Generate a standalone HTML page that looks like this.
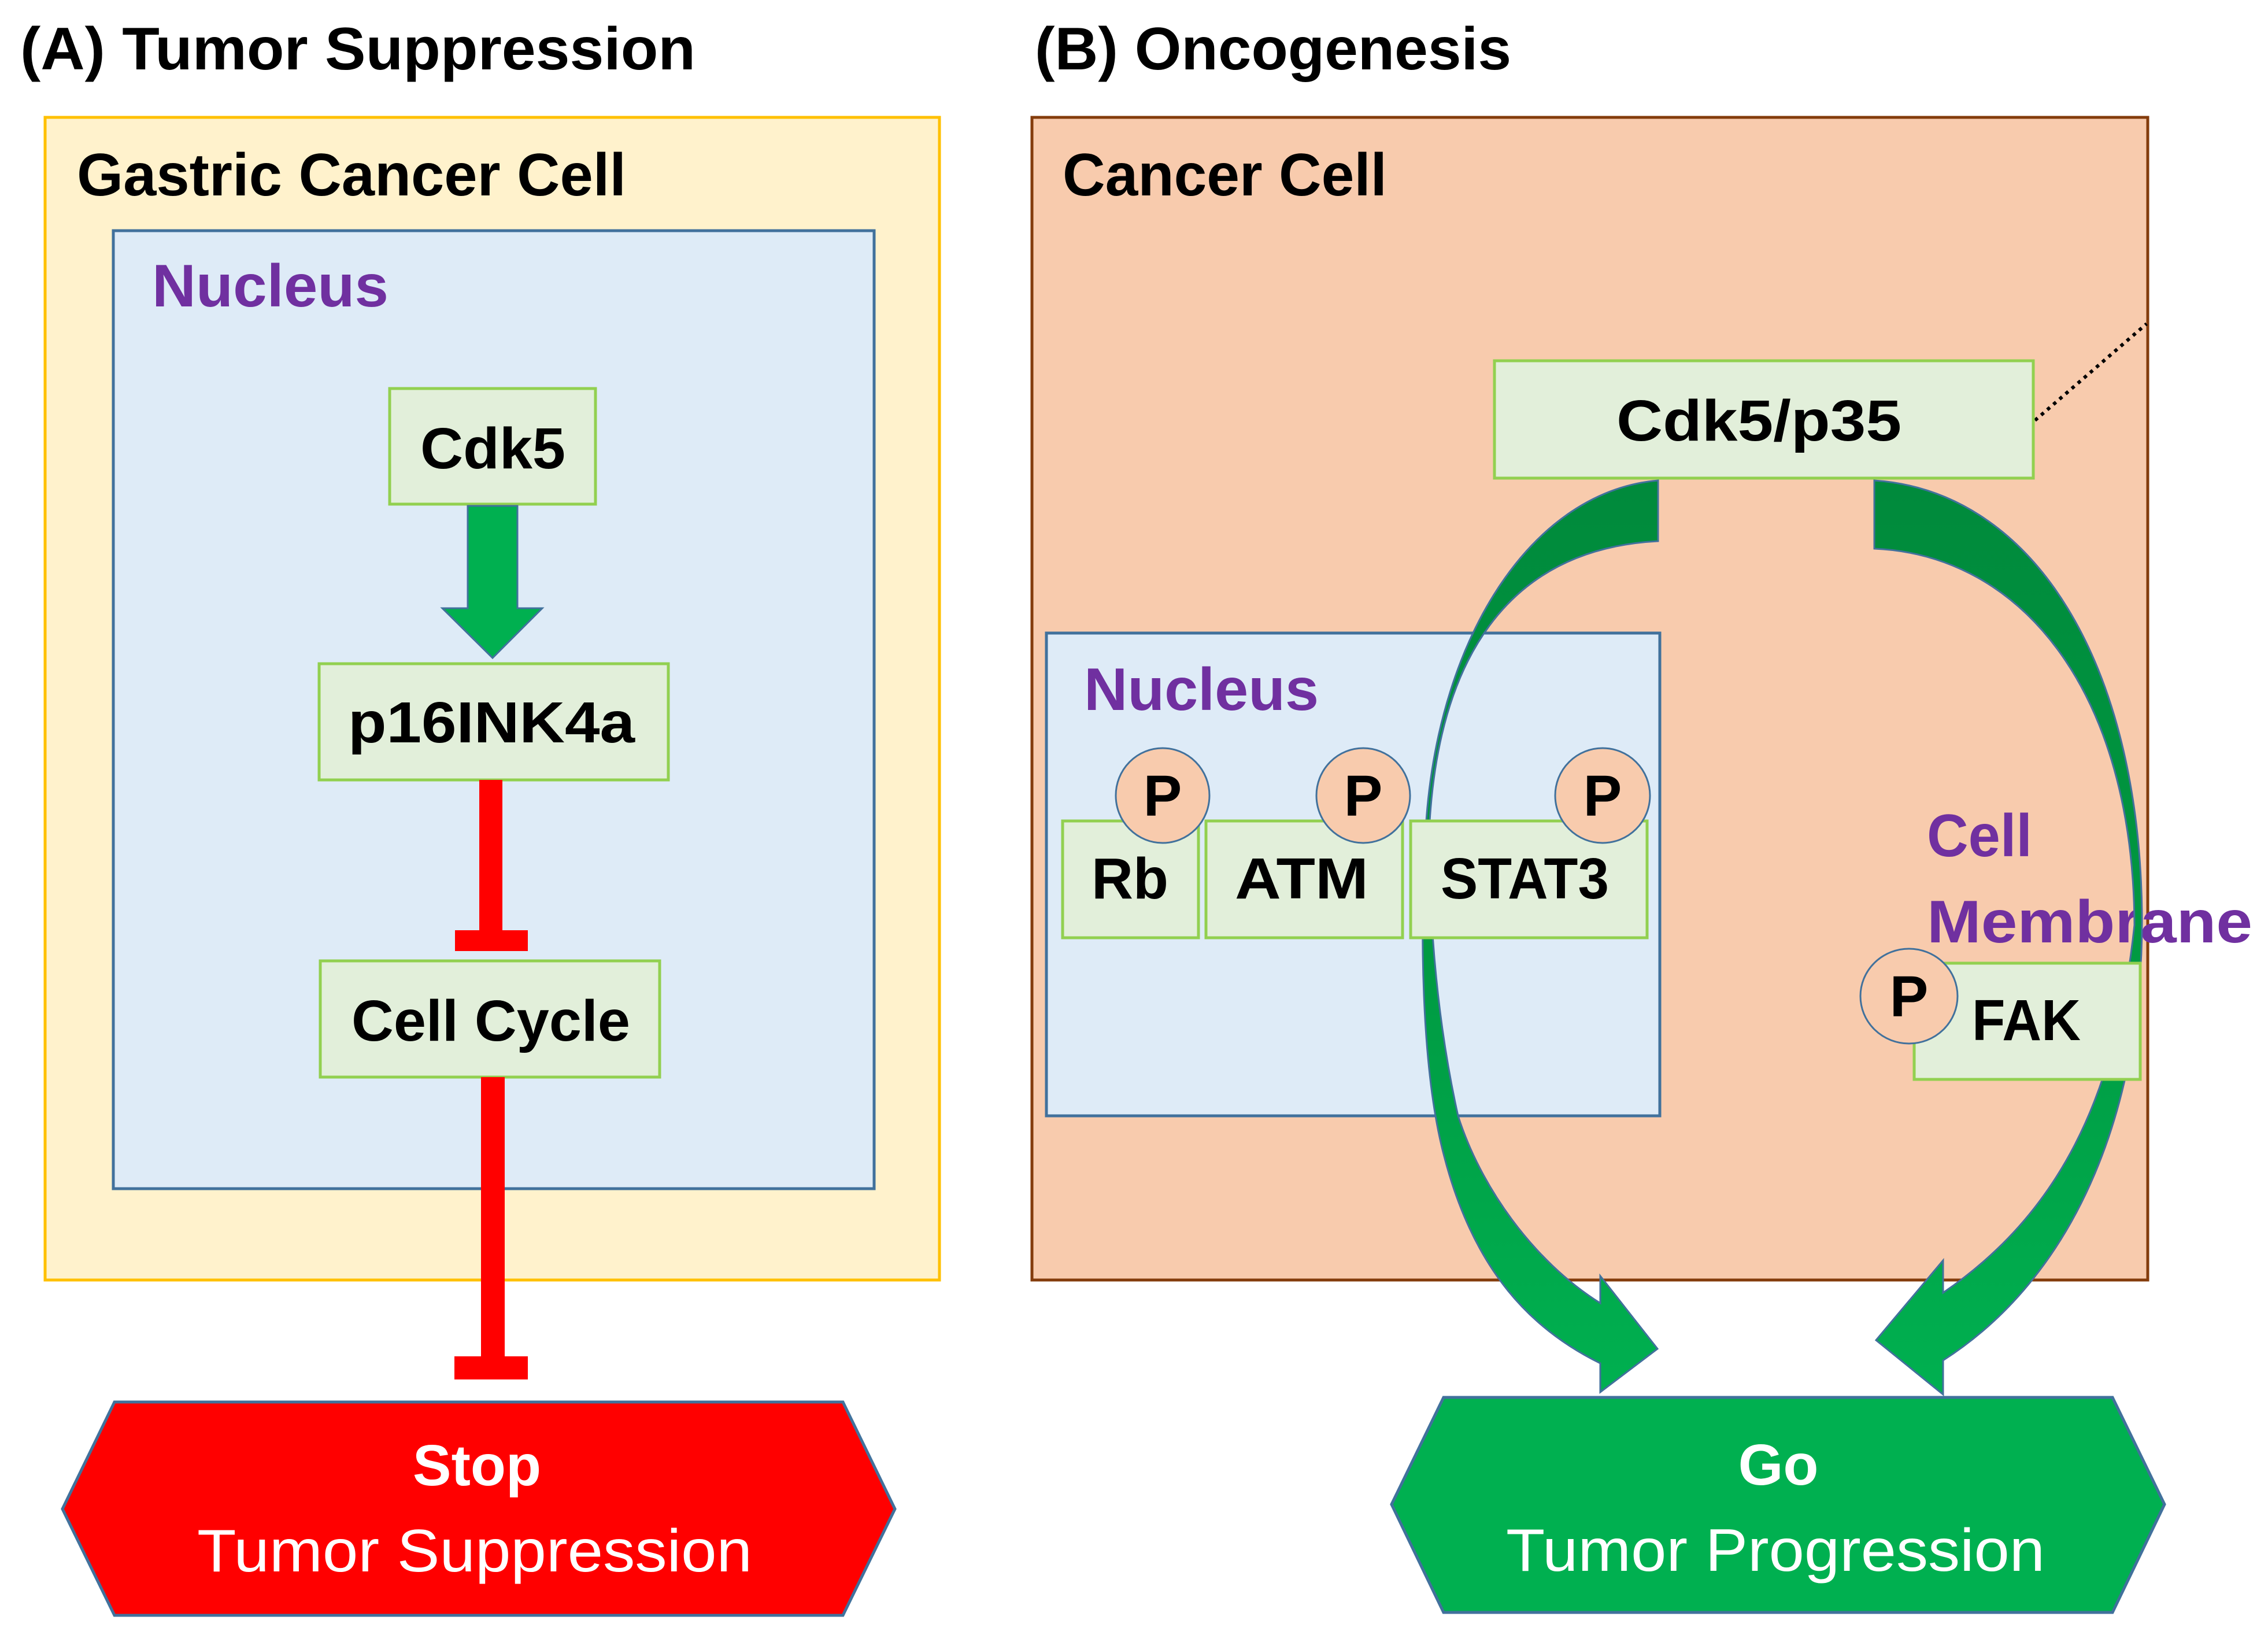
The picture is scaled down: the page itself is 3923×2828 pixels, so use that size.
<!DOCTYPE html>
<html><head><meta charset="utf-8"><style>
html,body{margin:0;padding:0;background:#fff}
svg{display:block}
text{font-family:"Liberation Sans",sans-serif}
.b{font-weight:bold}
</style></head><body>
<svg width="3923" height="2828" viewBox="0 0 3923 2828" xmlns="http://www.w3.org/2000/svg">
<defs>
<linearGradient id="gl" x1="0" y1="831" x2="0" y2="2410" gradientUnits="userSpaceOnUse">
<stop offset="0" stop-color="#008a3c"/><stop offset="0.4" stop-color="#00953f"/><stop offset="1" stop-color="#00b050"/>
</linearGradient>
</defs>
<!-- Panel A -->
<text class="b" x="35" y="120" font-size="104" textLength="1168" lengthAdjust="spacingAndGlyphs">(A) Tumor Suppression</text>
<rect x="78" y="203" width="1547" height="2011" fill="#fff2cc" stroke="#ffc000" stroke-width="5"/>
<text class="b" x="133" y="338" font-size="104" textLength="950" lengthAdjust="spacingAndGlyphs">Gastric Cancer Cell</text>
<rect x="196" y="399" width="1316" height="1657" fill="#deebf7" stroke="#41719c" stroke-width="5"/>
<text class="b" x="263" y="530" font-size="104" fill="#7030a0" textLength="409" lengthAdjust="spacingAndGlyphs">Nucleus</text>
<rect x="674" y="672" width="356" height="200" fill="#e2efda" stroke="#92d050" stroke-width="5"/>
<text class="b" x="727" y="810" font-size="100" textLength="251" lengthAdjust="spacingAndGlyphs">Cdk5</text>
<polygon points="809,875 895,875 895,1052 938,1052 852,1138 765,1052 809,1052" fill="#00b050" stroke="#41719c" stroke-width="3"/>
<rect x="552" y="1148" width="604" height="201" fill="#e2efda" stroke="#92d050" stroke-width="5"/>
<text class="b" x="602" y="1284" font-size="100" textLength="496" lengthAdjust="spacingAndGlyphs">p16INK4a</text>
<rect x="829" y="1349" width="40" height="265" fill="#ff0000"/>
<rect x="787" y="1609" width="126" height="36" fill="#ff0000"/>
<rect x="554" y="1662" width="587" height="201" fill="#e2efda" stroke="#92d050" stroke-width="5"/>
<text class="b" x="608" y="1800" font-size="100" textLength="482" lengthAdjust="spacingAndGlyphs">Cell Cycle</text>
<rect x="832" y="1863" width="41" height="488" fill="#ff0000"/>
<rect x="786" y="2346" width="127" height="40" fill="#ff0000"/>
<polygon points="108,2610 198,2425 1458,2425 1548,2610 1458,2794 198,2794" fill="#ff0000" stroke="#41719c" stroke-width="5"/>
<text class="b" x="825" y="2569" font-size="100" fill="#fff" text-anchor="middle">Stop</text>
<text x="341" y="2718" font-size="104" fill="#fff" textLength="960" lengthAdjust="spacingAndGlyphs">Tumor Suppression</text>

<!-- Panel B -->
<text class="b" x="1790" y="120" font-size="104" textLength="824" lengthAdjust="spacingAndGlyphs">(B) Oncogenesis</text>
<rect x="1785" y="203" width="1930" height="2011" fill="#f8cbad" stroke="#843c0c" stroke-width="5"/>
<text class="b" x="1838" y="338" font-size="104" textLength="561" lengthAdjust="spacingAndGlyphs">Cancer Cell</text>
<line x1="3520" y1="727" x2="3713" y2="560" stroke="#000" stroke-width="6" stroke-dasharray="6,8"/>
<rect x="2585" y="624" width="932" height="203" fill="#e2efda" stroke="#92d050" stroke-width="5"/>
<text class="b" x="2796" y="762" font-size="100" textLength="493" lengthAdjust="spacingAndGlyphs">Cdk5/p35</text>
<rect x="1810" y="1095" width="1061" height="835" fill="#deebf7" stroke="#41719c" stroke-width="5"/>
<text class="b" x="1875" y="1228" font-size="104" fill="#7030a0" textLength="406" lengthAdjust="spacingAndGlyphs">Nucleus</text>
<text class="b" x="3333" y="1481" font-size="104" fill="#7030a0" textLength="182" lengthAdjust="spacingAndGlyphs">Cell</text>
<text class="b" x="3333" y="1630" font-size="104" fill="#7030a0" textLength="563" lengthAdjust="spacingAndGlyphs">Membrane</text>

<!-- left arc arrow -->
<path d="M2868,831 C2650,850 2490,1100 2467,1420 C2455,1600 2458,1850 2498,2000 C2550,2200 2650,2300 2768,2358 L2768,2408 L2867,2333 L2768,2207 L2768,2254 C2650,2180 2560,2050 2522,1930 C2482,1750 2470,1560 2473,1420 C2490,1150 2600,950 2868,936 Z" fill="url(#gl)" stroke="#41719c" stroke-width="3"/>
<!-- right arc arrow -->
<path d="M3242,831 C3520,850 3700,1150 3705,1580 C3708,1900 3600,2200 3361,2353 L3361,2412 L3245,2318 L3361,2180 L3361,2236 C3560,2100 3660,1900 3692,1600 C3690,1200 3500,960 3242,949 Z" fill="url(#gl)" stroke="#41719c" stroke-width="3"/>

<rect x="1838" y="1420" width="235" height="202" fill="#e2efda" stroke="#92d050" stroke-width="5"/>
<text class="b" x="1888" y="1554" font-size="100" textLength="133" lengthAdjust="spacingAndGlyphs">Rb</text>
<rect x="2086" y="1420" width="340" height="202" fill="#e2efda" stroke="#92d050" stroke-width="5"/>
<text class="b" x="2136" y="1554" font-size="100" textLength="231" lengthAdjust="spacingAndGlyphs">ATM</text>
<rect x="2440" y="1420" width="409" height="202" fill="#e2efda" stroke="#92d050" stroke-width="5"/>
<text class="b" x="2492" y="1554" font-size="100" textLength="291" lengthAdjust="spacingAndGlyphs">STAT3</text>
<ellipse cx="2011" cy="1376" rx="81" ry="82" fill="#f8cbad" stroke="#41719c" stroke-width="3"/>
<text class="b" x="2011" y="1411" font-size="100" text-anchor="middle">P</text>
<ellipse cx="2358" cy="1376" rx="81" ry="82" fill="#f8cbad" stroke="#41719c" stroke-width="3"/>
<text class="b" x="2358" y="1411" font-size="100" text-anchor="middle">P</text>
<ellipse cx="2772" cy="1376" rx="82" ry="82" fill="#f8cbad" stroke="#41719c" stroke-width="3"/>
<text class="b" x="2772" y="1411" font-size="100" text-anchor="middle">P</text>

<rect x="3311" y="1666" width="391" height="201" fill="#e2efda" stroke="#92d050" stroke-width="5"/>
<text class="b" x="3411" y="1799" font-size="100" textLength="188" lengthAdjust="spacingAndGlyphs">FAK</text>
<ellipse cx="3302" cy="1723" rx="84" ry="82" fill="#f8cbad" stroke="#41719c" stroke-width="3"/>
<text class="b" x="3302" y="1758" font-size="100" text-anchor="middle">P</text>

<polygon points="2407,2602 2497,2417 3654,2417 3744,2602 3654,2789 2497,2789" fill="#00b050" stroke="#41719c" stroke-width="5"/>
<text class="b" x="3076" y="2568" font-size="100" fill="#fff" text-anchor="middle">Go</text>
<text x="2605" y="2717" font-size="104" fill="#fff" textLength="932" lengthAdjust="spacingAndGlyphs">Tumor Progression</text>
</svg>
</body></html>
